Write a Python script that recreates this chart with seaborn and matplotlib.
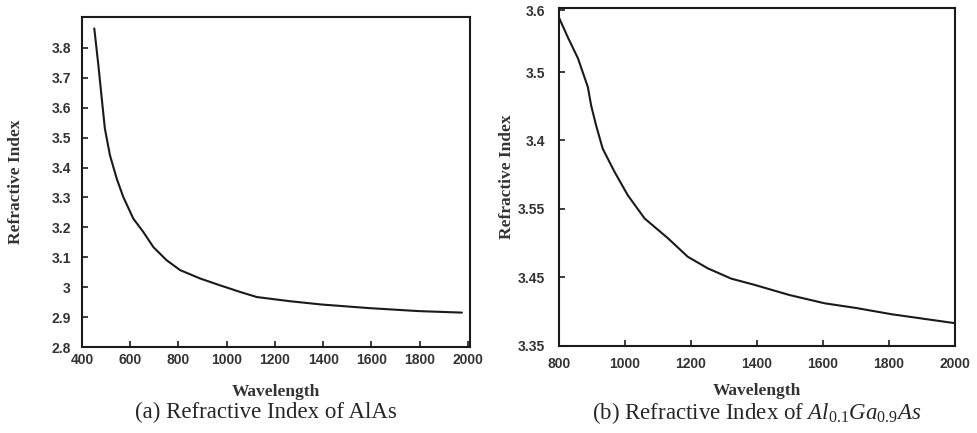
import matplotlib
matplotlib.use("Agg")
import matplotlib.pyplot as plt
import seaborn as sns
import pandas as pd

# ---- data ----
alas_wavelength = [451, 468, 482, 495, 516, 544, 571, 613, 654, 696, 751, 807, 890, 973, 1056,
                   1125, 1263, 1394, 1591, 1796, 1975]
alas_index = [3.865, 3.742, 3.631, 3.530, 3.441, 3.363, 3.302, 3.229, 3.185, 3.134, 3.090, 3.057,
              3.029, 3.006, 2.984, 2.967, 2.953, 2.942, 2.930, 2.920, 2.915]
alas_xticks = [400, 600, 800, 1000, 1200, 1400, 1600, 1800, 2000]
alas_yticks = [3.8, 3.7, 3.6, 3.5, 3.4, 3.3, 3.2, 3.1, 3.0, 2.9, 2.8]
alas_yticklabels = ["3.8", "3.7", "3.6", "3.5", "3.4", "3.3", "3.2", "3.1", "3", "2.9", "2.8"]

# second panel: values on the panel's evenly spaced vertical scale
algaas_wavelength = [800, 827, 858, 888, 898, 913, 933, 969, 1009, 1060, 1131, 1191, 1252, 1323,
                     1393, 1500, 1606, 1703, 1809, 2000]
algaas_index = [3.580, 3.551, 3.520, 3.478, 3.451, 3.422, 3.388, 3.354, 3.320, 3.286, 3.257,
                3.230, 3.213, 3.198, 3.189, 3.174, 3.162, 3.155, 3.146, 3.133]
algaas_xticks = [800, 1000, 1200, 1400, 1600, 1800, 2000]
algaas_ytick_pos = [3.59, 3.5, 3.4, 3.3, 3.2, 3.1]
algaas_yticklabels = ["3.6", "3.5", "3.4", "3.55", "3.45", "3.35"]

captions = ["(a) Refractive Index of AlAs", "(b) Refractive Index of $Al_{0.1}Ga_{0.9}As$"]

sns.set_style("white")
plt.rcParams["font.family"] = ["Liberation Sans", "DejaVu Sans"]
plt.rcParams["mathtext.fontset"] = "custom"
plt.rcParams["mathtext.it"] = "Liberation Serif:italic"
plt.rcParams["mathtext.rm"] = "Liberation Serif"

fig = plt.figure(figsize=(9.77, 4.33), dpi=100)
ax1 = fig.add_axes([0.0839, 0.1986, 0.397, 0.762])
ax2 = fig.add_axes([0.572, 0.2016, 0.405, 0.779])

df1 = pd.DataFrame({"Wavelength": alas_wavelength, "Refractive Index": alas_index})
df2 = pd.DataFrame({"Wavelength": algaas_wavelength, "Refractive Index": algaas_index})

sns.lineplot(data=df1, x="Wavelength", y="Refractive Index", ax=ax1, color="#1a1a1a", linewidth=1.5)
sns.lineplot(data=df2, x="Wavelength", y="Refractive Index", ax=ax2, color="#1a1a1a", linewidth=1.5)

ax1.set_xlim(400, 2008)
ax1.set_ylim(2.8, 3.903)
ax1.set_xticks(alas_xticks)
ax1.set_yticks(alas_yticks)
ax1.set_yticklabels(alas_yticklabels)

ax2.set_xlim(800, 2000)
ax2.set_ylim(3.1, 3.593)
ax2.set_xticks(algaas_xticks)
ax2.set_yticks(algaas_ytick_pos)
ax2.set_yticklabels(algaas_yticklabels)

for ax, xpad, ypad in [(ax1, 4, 8), (ax2, 8, 10)]:
    for s in ax.spines.values():
        s.set_visible(True)
        s.set_linewidth(1.5)
        s.set_color("#1a1a1a")
    ax.tick_params(direction="in", length=4, width=1.2, colors="#1a1a1a",
                   labelsize=10, top=False, right=False, left=True, bottom=True)
    ax.tick_params(axis="x", pad=xpad)
    ax.tick_params(axis="y", pad=ypad)
    for lab in ax.get_xticklabels() + ax.get_yticklabels():
        lab.set_fontweight("bold")
        lab.set_color("#333333")
    ax.set_xlabel("Wavelength", fontfamily="Liberation Serif", fontweight="bold",
                  fontsize=12.5, color="#333333")
    ax.set_ylabel("Refractive Index", fontfamily="Liberation Serif", fontweight="bold",
                  fontsize=12.5, color="#333333")
    ax.grid(False)

ax1.xaxis.set_label_coords(0.5, -0.112)
ax2.xaxis.set_label_coords(0.5, -0.112)
ax1.yaxis.set_label_coords(-0.150, 0.5)
ax2.yaxis.set_label_coords(-0.112, 0.5)

fig.text(0.272, 0.047, captions[0], ha="center", va="center",
         fontfamily="Liberation Serif", fontsize=16.5)
fig.text(0.775, 0.047, captions[1], ha="center", va="center",
         fontfamily="Liberation Serif", fontsize=16.5)

fig.savefig("out.png", dpi=100)
